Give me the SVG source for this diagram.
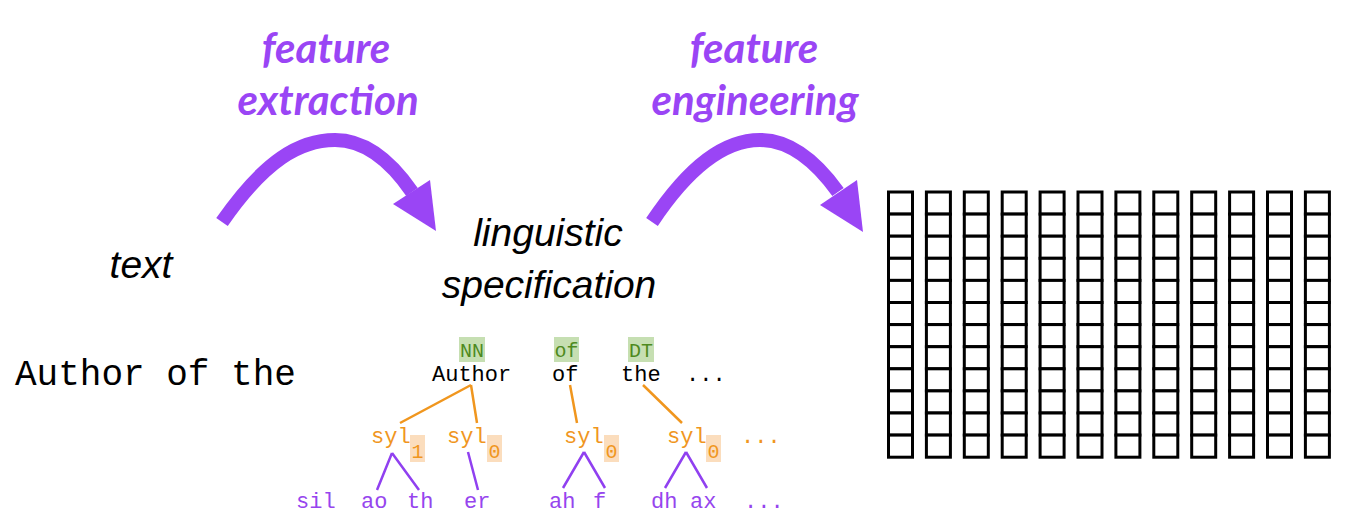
<svg xmlns="http://www.w3.org/2000/svg" width="1350" height="516" viewBox="0 0 1350 516">
<style>
.title{font-family:Lato,"Open Sans",sans-serif;font-weight:bold;font-style:italic;font-size:42px;fill:#9A45F5;text-anchor:middle}
.lab{font-family:"Liberation Sans",Arial,sans-serif;font-style:italic;font-size:39px;fill:#000;text-anchor:middle}
.mono{font-family:"Liberation Mono","Courier New",monospace}
.word{font-size:22px;fill:#000}
.tag{font-size:20px;fill:#4E8A1E;text-anchor:middle}
.tagbg{fill:#C6DFB2}
.syl{font-size:22px;fill:#F0961E}
.sub{font-size:20px;fill:#F0961E;text-anchor:middle}
.subbg{fill:#FBDDBD}
.ph{font-size:22px;fill:#9645EE}
.arrow{fill:none;stroke:#9A45F5;stroke-width:14}
.head{fill:#9A45F5}
.ol{stroke:#F0961E;stroke-width:2.5;fill:none}
.pl{stroke:#9040F0;stroke-width:2.5;fill:none}
.cell{fill:#fff;stroke:#000;stroke-width:3}
</style>
<defs>
<g id="col">
<rect class="cell" x="0" y="0" width="24" height="22.1"/>
<rect class="cell" x="0" y="22.1" width="24" height="22.1"/>
<rect class="cell" x="0" y="44.2" width="24" height="22.1"/>
<rect class="cell" x="0" y="66.3" width="24" height="22.1"/>
<rect class="cell" x="0" y="88.4" width="24" height="22.1"/>
<rect class="cell" x="0" y="110.5" width="24" height="22.1"/>
<rect class="cell" x="0" y="132.6" width="24" height="22.1"/>
<rect class="cell" x="0" y="154.7" width="24" height="22.1"/>
<rect class="cell" x="0" y="176.8" width="24" height="22.1"/>
<rect class="cell" x="0" y="198.9" width="24" height="22.1"/>
<rect class="cell" x="0" y="221" width="24" height="22.1"/>
<rect class="cell" x="0" y="243.1" width="24" height="22.1"/>
</g>
</defs>
<rect width="1350" height="516" fill="#fff"/>

<g id="title-extraction">
<text class="title" x="326" y="63">feature</text>
<text class="title" x="328" y="115">extraction</text>
</g>
<g id="title-engineering">
<text class="title" x="754" y="63">feature</text>
<text class="title" x="755" y="115">engineering</text>
</g>

<g id="connectors">
<g id="arrow1">
<path class="arrow" d="M222,222 C265,160 300,140 335,140 C365,140 390,160 412,192"/>
<polygon class="head" points="430,180 393,204 436,231"/>
</g>
<g id="arrow2">
<path class="arrow" d="M652,222 C690,165 725,140 760,140 C790,140 815,160 838,192"/>
<polygon class="head" points="857,180 820,205 863,232"/>
</g>
<g id="tree-lines">
<path class="ol" d="M471,385 L400,423 M471,385 L477,423 M570,385 L577,423 M643,385 L682,423"/>
<path class="pl" d="M392,453 L377,490 M392,453 L419,490 M468,452 L478,490 M584,452 L563,488 M584,452 L605,488 M686,452 L665,488 M686,452 L707,488"/>
</g>
</g>

<g id="text-node">
<text class="lab" x="141" y="278">text</text>
<text class="mono" x="15" y="385" font-size="36">Author of the</text>
</g>

<g id="linguistic-spec">
<text class="lab" x="548" y="246" font-size="38">linguistic</text>
<text class="lab" x="549" y="298" font-size="38">specification</text>
</g>

<g id="words" class="mono">
<rect class="tagbg" x="459" y="337" width="26" height="25"/>
<text class="tag" x="472" y="357">NN</text>
<rect class="tagbg" x="554" y="337" width="25" height="25"/>
<text class="tag" x="566.5" y="357">of</text>
<rect class="tagbg" x="628" y="337" width="26" height="25"/>
<text class="tag" x="641" y="357">DT</text>
<text class="word" x="432" y="381">Author</text>
<text class="word" x="552" y="381">of</text>
<text class="word" x="621" y="381">the</text>
<text class="word" x="686" y="381">...</text>
</g>

<g id="syllables" class="mono">
<text class="syl" x="371" y="443">syl</text>
<rect class="subbg" x="410" y="435" width="15" height="27"/>
<text class="sub" x="417.5" y="458">1</text>
<text class="syl" x="447" y="443">syl</text>
<rect class="subbg" x="487" y="435" width="15" height="27"/>
<text class="sub" x="494.5" y="458">0</text>
<text class="syl" x="564" y="443">syl</text>
<rect class="subbg" x="604" y="435" width="15" height="27"/>
<text class="sub" x="611.5" y="458">0</text>
<text class="syl" x="667" y="443">syl</text>
<rect class="subbg" x="706" y="435" width="15" height="27"/>
<text class="sub" x="713.5" y="458">0</text>
<text class="syl" x="741" y="443">...</text>
</g>

<g id="phones" class="mono">
<text class="ph" x="296" y="508">sil</text>
<text class="ph" x="361" y="508">ao</text>
<text class="ph" x="407" y="508">th</text>
<text class="ph" x="464" y="508">er</text>
<text class="ph" x="549" y="508">ah</text>
<text class="ph" x="593" y="508">f</text>
<text class="ph" x="651" y="508">dh</text>
<text class="ph" x="690" y="508">ax</text>
<text class="ph" x="744" y="508">...</text>
</g>

<g id="feature-matrix">
<use href="#col" x="888.5" y="192"/>
<use href="#col" x="926.4" y="192"/>
<use href="#col" x="964.3" y="192"/>
<use href="#col" x="1002.2" y="192"/>
<use href="#col" x="1040.1" y="192"/>
<use href="#col" x="1078" y="192"/>
<use href="#col" x="1115.9" y="192"/>
<use href="#col" x="1153.8" y="192"/>
<use href="#col" x="1191.7" y="192"/>
<use href="#col" x="1229.6" y="192"/>
<use href="#col" x="1267.5" y="192"/>
<use href="#col" x="1305.4" y="192"/>
</g>
</svg>
